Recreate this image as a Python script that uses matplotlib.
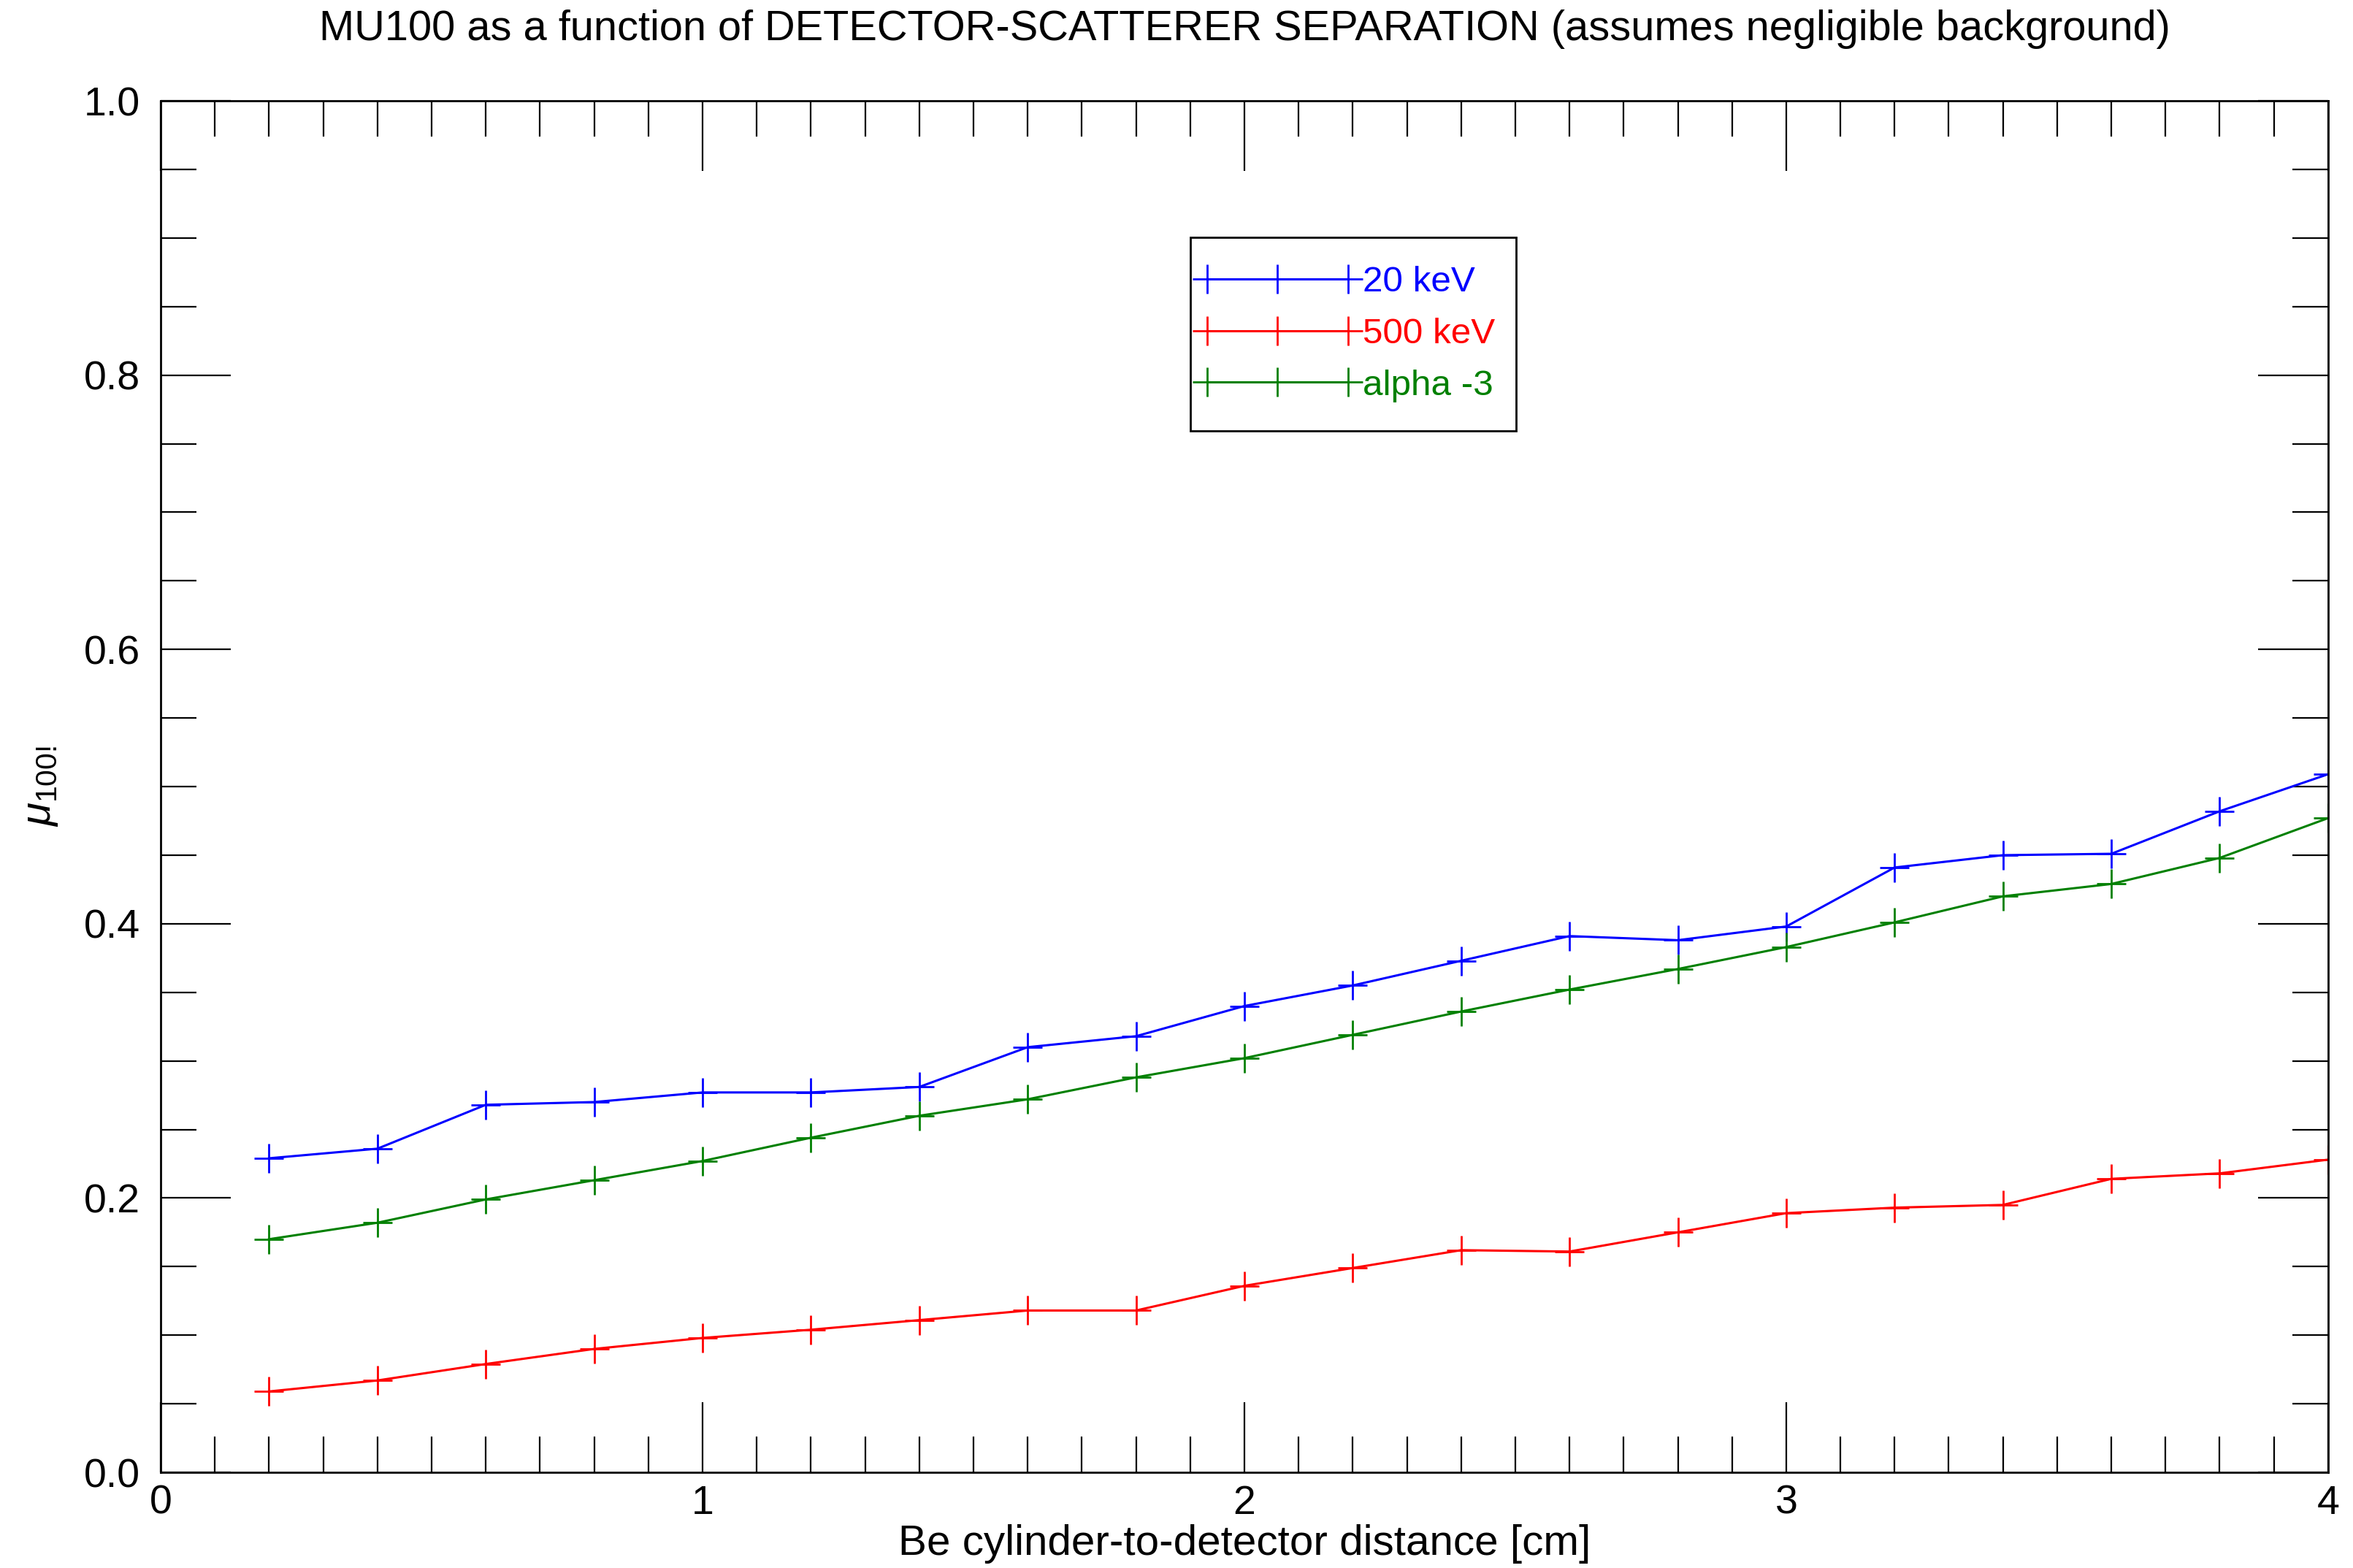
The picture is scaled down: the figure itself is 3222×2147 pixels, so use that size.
import matplotlib
matplotlib.use("Agg")
import matplotlib.pyplot as plt
from matplotlib.ticker import MultipleLocator
from matplotlib.patches import Rectangle

plt.rcParams['font.family'] = ['Liberation Sans', 'DejaVu Sans']
plt.rcParams['mathtext.fontset'] = 'custom'
plt.rcParams['mathtext.rm'] = 'Liberation Sans'
plt.rcParams['mathtext.it'] = 'Liberation Sans:italic'

# 距离 (cm)
distance = [0.2, 0.4, 0.6, 0.8, 1.0, 1.2, 1.4, 1.6, 1.8, 2.0,
            2.2, 2.4, 2.6, 2.8, 3.0, 3.2, 3.4, 3.6, 3.8, 4.0]

# 各能量的 mu100
mu_20kev = [0.229, 0.236, 0.268, 0.270, 0.277, 0.277, 0.281, 0.310, 0.318, 0.340,
            0.355, 0.373, 0.391, 0.388, 0.398, 0.441, 0.450, 0.451, 0.482, 0.509]
mu_500kev = [0.059, 0.067, 0.079, 0.090, 0.098, 0.104, 0.111, 0.118, 0.118, 0.136,
             0.149, 0.162, 0.161, 0.175, 0.189, 0.193, 0.195, 0.214, 0.218, 0.228]
mu_alpha3 = [0.170, 0.182, 0.199, 0.213, 0.227, 0.244, 0.260, 0.272, 0.288, 0.302,
             0.319, 0.336, 0.352, 0.367, 0.383, 0.401, 0.420, 0.429, 0.448, 0.477]

labels = ['20 keV', '500 keV', 'alpha -3']
colors = ['#0000ff', '#ff0000', '#008000']

fig = plt.figure(figsize=(16.11, 10.735), dpi=200)
ax = fig.add_axes([0.0683, 0.0610, 0.9211, 0.8747])

for ys, lab, c in zip([mu_20kev, mu_500kev, mu_alpha3], labels, colors):
    ax.plot(distance, ys, color=c, lw=1.1, marker='+', markersize=14.5,
            markeredgewidth=1.0, label=lab)

ax.set_xlim(0, 4)
ax.set_ylim(0, 1.0)
ax.xaxis.set_major_locator(MultipleLocator(1))
ax.xaxis.set_minor_locator(MultipleLocator(0.1))
ax.yaxis.set_major_locator(MultipleLocator(0.2))
ax.yaxis.set_minor_locator(MultipleLocator(0.05))
ax.xaxis.set_major_formatter(plt.FuncFormatter(lambda v, p: f"{v:.0f}"))
ax.yaxis.set_major_formatter(plt.FuncFormatter(lambda v, p: f"{v:.1f}"))

ax.tick_params(which='both', direction='in', top=True, right=True,
               labelsize=20, width=0.8, color='black')
ax.tick_params(which='major', length=34.5)
ax.tick_params(which='minor', length=17.6)
ax.tick_params(axis='x', which='major', pad=6)
ax.tick_params(axis='y', which='major', pad=10)
for s in ax.spines.values():
    s.set_linewidth(1.0)

ax.set_xlabel('Be cylinder-to-detector distance [cm]', fontsize=21, labelpad=1)
ax.set_ylabel(r'$\mu_{\mathrm{100!}}$', fontsize=21, labelpad=12)
ax.set_title('MU100 as a function of DETECTOR-SCATTERER SEPARATION (assumes negligible background)',
             fontsize=20.8, pad=30)

# 图例（边框单独画）
leg = ax.legend(loc='upper left', bbox_to_anchor=(0.4778, 0.8795), fontsize=17.8,
                numpoints=3, handlelength=4.5, handletextpad=0.1, labelspacing=0.52,
                borderpad=0, borderaxespad=0, frameon=False)
for t, c in zip(leg.get_texts(), colors):
    t.set_color(c)
ax.add_patch(Rectangle((0.4751, 0.7594), 0.1501, 0.1412, transform=ax.transAxes,
                       fill=False, edgecolor='black', linewidth=1.0, zorder=5))

fig.savefig('out.png', dpi=200)
